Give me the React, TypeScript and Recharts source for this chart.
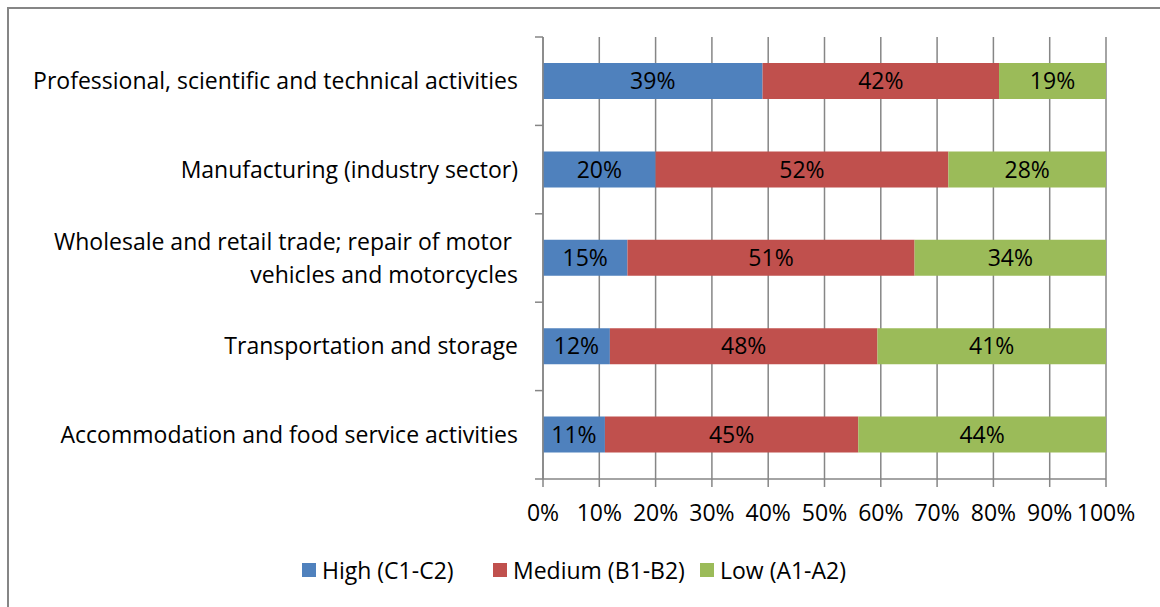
import React from 'react'
import {
  BarChart, Bar, XAxis, YAxis, CartesianGrid, LabelList, Legend,
} from 'recharts'

const categories = [
  'Professional, scientific and technical activities',
  'Manufacturing (industry sector)',
  'Wholesale and retail trade; repair of motor \nvehicles and motorcycles',
  'Transportation and storage',
  'Accommodation and food service activities',
]
const high = [39, 20, 15, 12, 11]
const medium = [42, 52, 51, 48, 45]
const low = [19, 28, 34, 41, 44]
const xTicks = [0, 0.1, 0.2, 0.3, 0.4, 0.5, 0.6, 0.7, 0.8, 0.9, 1]

const series = [
  { key: 'high', name: 'High (C1-C2)', color: '#4F81BD' },
  { key: 'medium', name: 'Medium (B1-B2)', color: '#C0504D' },
  { key: 'low', name: 'Low (A1-A2)', color: '#9BBB59' },
]

const data = categories.map((c, i) => ({
  category: c, high: high[i], medium: medium[i], low: low[i],
}))

const FONT = '"Open Sans", sans-serif'
const FS = 23
const GRID = '#868686'

const CategoryTick = (props: any) => {
  const { x, y, payload, index } = props
  const half = payload?.offset ?? 44
  const lines = String(payload.value).split('\n')
  const lh = 33
  const start = -((lines.length - 1) * lh) / 2
  return (
    <g>
      <line x1={x + 17} x2={x + 25} y1={y - half} y2={y - half} stroke={GRID} strokeWidth={1.5} />
      {index === categories.length - 1 && (
        <line x1={x + 17} x2={x + 25} y1={y + half} y2={y + half} stroke={GRID} strokeWidth={1.5} />
      )}
      <text x={x} y={y} textAnchor="end" fill="#000" fontFamily={FONT} fontSize={FS}>
        {lines.map((l, i) => (
          <tspan key={i} x={x} y={y + start + i * lh} dy="0.35em">{l}</tspan>
        ))}
      </text>
    </g>
  )
}

// legend item widths follow the reference's spacing
const legendWidths = [191, 207, 200]

const LegendContent = () => (
  <div style={{ display: 'flex', paddingLeft: 302, fontFamily: FONT, fontSize: FS, color: '#000' }}>
    {series.map((s, i) => (
      <div key={s.key} style={{ display: 'flex', alignItems: 'center', gap: 6, width: legendWidths[i] }}>
        <span style={{ width: 14, height: 14, background: s.color, display: 'inline-block', flex: 'none' }} />
        <span style={{ whiteSpace: 'nowrap' }}>{s.name}</span>
      </div>
    ))}
  </div>
)

export default function App() {
  return (
    <div style={{ position: 'fixed', left: 0, top: 0, width: 1160, height: 607, overflow: 'hidden', background: '#fff' }}>
      <div style={{ position: 'absolute', left: 7, top: 7, width: 1200, height: 700, border: `2px solid ${GRID}` }} />
      <div style={{ position: 'absolute', left: 0, top: 0 }}>
        <BarChart
          width={1160}
          height={607}
          data={data}
          layout="vertical"
          stackOffset="expand"
          barSize={36}
          margin={{ top: 37, right: 54, left: 0, bottom: 36 }}
        >
          <CartesianGrid horizontal={false} stroke={GRID} strokeWidth={1.5} />
          <XAxis
            type="number"
            domain={[0, 1]}
            ticks={xTicks}
            tickFormatter={(v) => `${Math.round(v * 100)}%`}
            tick={{ fill: '#000', fontFamily: FONT, fontSize: FS }}
            axisLine={{ stroke: GRID, strokeWidth: 1.5 }}
            tickLine={{ stroke: GRID, strokeWidth: 1.5 }}
            tickSize={8}
            tickMargin={18}
            height={60}
            interval={0}
          />
          <YAxis
            type="category"
            dataKey="category"
            width={543}
            tick={<CategoryTick />}
            tickSize={0}
            tickMargin={25}
            axisLine={{ stroke: GRID, strokeWidth: 1.5 }}
            tickLine={false}
            interval={0}
          />
          <Legend
            verticalAlign="bottom"
            content={<LegendContent />}
            wrapperStyle={{ bottom: 21, left: 0, width: 1160 }}
          />
          {series.map((s) => (
            <Bar key={s.key} dataKey={s.key} name={s.name} stackId="a" fill={s.color} isAnimationActive={false}>
              <LabelList
                dataKey={s.key}
                position="center"
                formatter={(v: any) => `${v}%`}
                fill="#000"
                fontFamily={FONT}
                fontSize={FS}
              />
            </Bar>
          ))}
        </BarChart>
      </div>
    </div>
  )
}
